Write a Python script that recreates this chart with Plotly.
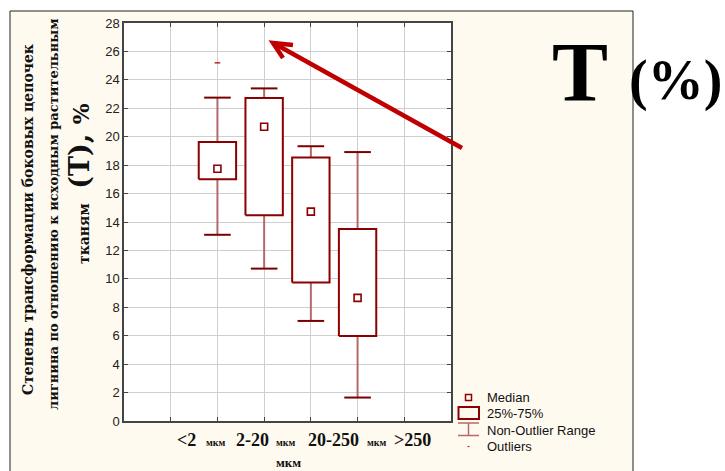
import plotly.graph_objects as go

# Box statistics per fraction (values in %)
categories = ["<2", "2-20", "20-250", ">250"]
unit_label = "мкм"
positions = [2, 3, 4, 5]
q1 = [17.0, 14.47, 9.74, 5.98]
median = [17.75, 20.7, 14.73, 8.66]
q3 = [19.63, 22.73, 18.53, 13.51]
lower = [13.1, 10.72, 7.04, 1.65]
upper = [22.75, 23.4, 19.33, 18.92]
outlier_x = [2]
outlier_y = [25.2]

W, H = 725, 471
L, R, T, B = 124, 274, 23, 50
PW, PH = W - L - R, H - T - B


def px(x):
    return (x - L) / PW


def py(y):
    return (H - B - y) / PH


BOX_DARK = "#8b0000"
CAP_DARK = "#7a0000"
WHISK = "#b56a6a"
BOX_HW = 0.4
CAP_HW = 0.285

fig = go.Figure()

# whiskers (vertical stems)
wx, wy = [], []
for p, a, b, c, d in zip(positions, lower, q1, q3, upper):
    wx += [p, p, None, p, p, None]
    wy += [a, b, None, c, d, None]
fig.add_trace(go.Scatter(x=wx, y=wy, mode="lines",
                         line=dict(color=WHISK, width=2), hoverinfo="skip"))

# whisker caps
cx, cy = [], []
for p, a, d in zip(positions, lower, upper):
    cx += [p - CAP_HW, p + CAP_HW, None, p - CAP_HW, p + CAP_HW, None]
    cy += [a, a, None, d, d, None]
fig.add_trace(go.Scatter(x=cx, y=cy, mode="lines",
                         line=dict(color=CAP_DARK, width=2), hoverinfo="skip"))

# 25%-75% boxes
bx, by = [], []
for p, b, c in zip(positions, q1, q3):
    bx += [p - BOX_HW, p + BOX_HW, p + BOX_HW, p - BOX_HW, p - BOX_HW, None]
    by += [b, b, c, c, b, None]
fig.add_trace(go.Scatter(x=bx, y=by, mode="lines", fill="toself",
                         fillcolor="white",
                         line=dict(color=BOX_DARK, width=2), hoverinfo="skip"))

# medians
fig.add_trace(go.Scatter(x=positions, y=median, mode="markers",
                         marker=dict(symbol="square-open", size=7,
                                     color=BOX_DARK, line=dict(width=1.6))))

# outliers
fig.add_trace(go.Scatter(x=outlier_x, y=outlier_y, mode="markers",
                         marker=dict(symbol="line-ew-open", size=4,
                                     color="#cc2020", line=dict(width=1.5))))

shapes = [
    # cream panel
    dict(type="rect", xref="paper", yref="paper", layer="below",
         x0=px(10), x1=px(633), y0=py(490), y1=py(11),
         fillcolor="#fffaf0", line=dict(color="#222", width=1)),
    # white plotting area
    dict(type="rect", xref="paper", yref="paper", layer="below",
         x0=0, x1=1, y0=0, y1=1, fillcolor="white", line=dict(width=0)),
    # arrow shaft and head
    dict(type="path", xref="paper", yref="paper",
         path=f"M {px(462)},{py(148)} L {px(276)},{py(44.5)}",
         line=dict(color="#c00000", width=4.5)),
    dict(type="path", xref="paper", yref="paper",
         path=f"M {px(293)},{py(45)} L {px(273)},{py(43)} L {px(283)},{py(58)}",
         line=dict(color="#c00000", width=4.5)),
]

# legend symbols
shapes += [
    dict(type="rect", xref="paper", yref="paper",
         x0=px(465.5), x1=px(471.5), y0=py(400.5), y1=py(394.5),
         line=dict(color=BOX_DARK, width=1.5)),
    dict(type="rect", xref="paper", yref="paper",
         x0=px(458.5), x1=px(479), y0=py(419), y1=py(407),
         line=dict(color=BOX_DARK, width=2)),
    dict(type="path", xref="paper", yref="paper",
         path=(f"M {px(458)},{py(423)} L {px(479)},{py(423)} "
               f"M {px(468.5)},{py(423)} L {px(468.5)},{py(435.5)} "
               f"M {px(458)},{py(435.5)} L {px(479)},{py(435.5)}"),
         line=dict(color=WHISK, width=1.5)),
    dict(type="line", xref="paper", yref="paper",
         x0=px(467.5), x1=px(469.5), y0=py(446.5), y1=py(446.5),
         line=dict(color="#cc2020", width=1.2)),
]

annotations = []
legend_rows = [("Median", 397.5), ("25%-75%", 413.5),
               ("Non-Outlier Range", 430.5), ("Outliers", 446.5)]
for txt, yy in legend_rows:
    annotations.append(dict(xref="paper", yref="paper", x=px(485), y=py(yy),
                            xanchor="left", yanchor="middle", showarrow=False,
                            text=txt,
                            font=dict(family="Liberation Sans", size=13,
                                      color="#111")))

# category labels under the axis
big = dict(family="Liberation Serif", size=18, color="#111")
small = dict(family="Liberation Serif", size=10, color="#111")
cat_x = [186, 252, 333, 412]
unit_x = [216, 286, 376.5]
for c, xx in zip(categories, cat_x):
    annotations.append(dict(xref="paper", yref="paper", x=px(xx), y=py(440),
                            xanchor="center", yanchor="middle",
                            showarrow=False, text=f"<b>{c.replace('<', '&lt;').replace('>', '&gt;')}</b>",
                            font=big))
for xx in unit_x:
    annotations.append(dict(xref="paper", yref="paper", x=px(xx), y=py(442.5),
                            xanchor="center", yanchor="middle",
                            showarrow=False, text=f"<b>{unit_label}</b>",
                            font=small))
annotations.append(dict(xref="paper", yref="paper", x=px(288), y=py(463),
                        xanchor="center", yanchor="middle", showarrow=False,
                        text=f"<b>{unit_label}</b>",
                        font=dict(family="Liberation Serif", size=13,
                                  color="#111")))

# y axis title (three rotated lines)
annotations += [
    dict(xref="paper", yref="paper", x=px(28), y=py(220), textangle=-90,
         xanchor="center", yanchor="middle", showarrow=False,
         text="<b>Степень трансформации боковых цепочек</b>",
         font=dict(family="DejaVu Serif", size=14, color="#111")),
    dict(xref="paper", yref="paper", x=px(53), y=py(215), textangle=-90,
         xanchor="center", yanchor="middle", showarrow=False,
         text="<b>лигнина по отношению к исходным растительным</b>",
         font=dict(family="DejaVu Serif", size=13, color="#111")),
    dict(xref="paper", yref="paper", x=px(79), y=py(184), textangle=-90,
         xanchor="center", yanchor="middle", showarrow=False,
         text=("<b>тканям   </b><span style='font-size:27px'><b>(T), </b></span>"
               "<span style='font-size:22px'><b>%</b></span>"),
         font=dict(family="DejaVu Serif", size=14, color="#111")),
]

# large "T (%)" caption
annotations += [
    dict(xref="paper", yref="paper", x=px(580), y=py(72),
         xanchor="center", yanchor="middle", showarrow=False,
         text="<b>T</b>",
         font=dict(family="Liberation Serif", size=84, color="#000")),
    dict(xref="paper", yref="paper", x=px(627), y=py(80),
         xanchor="left", yanchor="middle", showarrow=False,
         text="<b>(%)</b>",
         font=dict(family="Liberation Serif", size=56, color="#000")),
]

fig.update_layout(
    width=W, height=H,
    margin=dict(l=L, r=R, t=T, b=B, pad=0),
    paper_bgcolor="white",
    plot_bgcolor="rgba(0,0,0,0)",
    showlegend=False,
    shapes=shapes,
    annotations=annotations,
    xaxis=dict(range=[0, 7], tickvals=[1, 2, 3, 4, 5, 6], showticklabels=False,
               showgrid=True, gridcolor="#cfcfcf", gridwidth=1.2,
               zeroline=False, showline=True, linecolor="#444", linewidth=1.5,
               mirror="ticks", ticks="inside", ticklen=4, tickcolor="#444",
               fixedrange=True),
    yaxis=dict(range=[0, 28], tickvals=list(range(0, 29, 2)),
               showgrid=True, gridcolor="#cfcfcf", gridwidth=1.2,
               zeroline=False, showline=True, linecolor="#444", linewidth=1.5,
               mirror="ticks", ticks="inside", ticklen=4, tickcolor="#444",
               tickfont=dict(family="Liberation Sans", size=13, color="#222"),
               fixedrange=True),
)

fig.write_html("out.html")
